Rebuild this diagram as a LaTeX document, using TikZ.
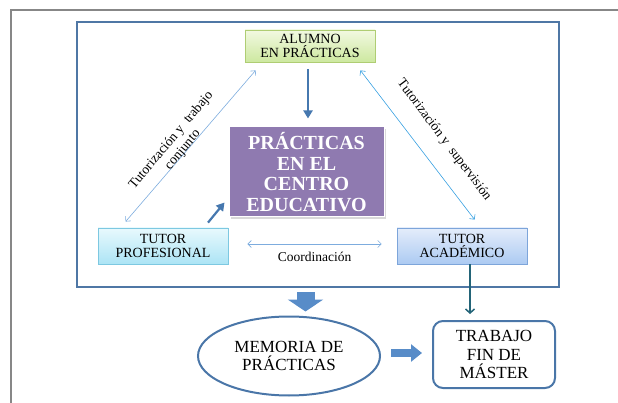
\documentclass[tikz,border=0pt]{standalone}
\usepackage{fontspec}
\setmainfont{Liberation Serif}
\usetikzlibrary{arrows.meta,shapes.geometric,shadows}
\definecolor{gris}{RGB}{135,135,135}
\definecolor{marco}{RGB}{79,119,165}
\definecolor{morado}{RGB}{143,122,176}
\definecolor{flecha}{RGB}{70,120,175}
\definecolor{bloqueazul}{RGB}{88,140,200}
\definecolor{azulclaro}{RGB}{125,172,222}
\definecolor{azulvivo}{RGB}{55,160,225}
\definecolor{verdosa}{RGB}{35,100,120}
\definecolor{contorno}{RGB}{74,118,168}
\tikzset{
  caja/.style={draw, line width=0.8, minimum width=130, minimum height=36, inner sep=0,
    align=center, font=\fontsize{14}{14}\selectfont},
  texto/.style={inner sep=1, align=center, text=black, font=\fontsize{13.5}{15}\selectfont},
  fina/.style={<->, >={Straight Barb[length=3.5pt,width=7pt]}, line width=0.6},
  gruesa/.style={flecha, line width=2.2, -{Triangle[length=8pt,width=9pt]}},
  bloque/.style={bloqueazul, line width=18, -{Triangle[length=12pt,width=35pt]}}
}
\begin{document}
\begin{tikzpicture}[x=1pt, y=-1pt]
  \useasboundingbox (0,0) rectangle (618,403);
  \draw[gris, line width=1.5] (618,10) -- (11,10) -- (11,403);
  \draw[marco, line width=2.5] (77,22) rectangle (559,287);

  \node[caja, draw={rgb,255:red,175;green,205;blue,115}, top color={rgb,255:red,242;green,249;blue,225},
    bottom color={rgb,255:red,205;green,232;blue,160}, minimum height=32] (alumno) at (310,46) {ALUMNO\\EN PRÁCTICAS};
  \node[draw=white, line width=1, fill=morado, text=white, minimum width=155, minimum height=90, inner sep=0,
    align=center, font=\fontsize{20}{20.7}\selectfont\bfseries,
    drop shadow={shadow xshift=2pt, shadow yshift=-2pt, opacity=.3}] (practicas) at (306.5,172)
    {PRÁCTICAS\\EN EL\\CENTRO\\EDUCATIVO};
  \node[caja, draw={rgb,255:red,125;green,200;blue,225}, top color={rgb,255:red,232;green,249;blue,253},
    bottom color={rgb,255:red,172;green,228;blue,245}] (profesional) at (163,246) {TUTOR\\PROFESIONAL};
  \node[caja, draw={rgb,255:red,125;green,165;blue,218}, top color={rgb,255:red,228;green,237;blue,251},
    bottom color={rgb,255:red,172;green,202;blue,242}] (academico) at (462,246) {TUTOR\\ACADÉMICO};
  \node[ellipse, draw=contorno, line width=2, minimum width=182, minimum height=79, inner sep=0,
    align=center, font=\fontsize{17}{18}\selectfont] (memoria) at (289,356) {MEMORIA DE\\PRÁCTICAS};
  \node[draw=contorno, line width=2, rounded corners=10, minimum width=122, minimum height=67, inner sep=0,
    align=center, font=\fontsize{17}{18.5}\selectfont] (tfm) at (494,354.5) {TRABAJO\\FIN DE\\MÁSTER};
  \coordinate (salida) at (305.5,292);

  \draw[gruesa, shorten <=7, shorten >=8] ([xshift=-2]alumno.south) -- ([xshift=-2]alumno.south |- practicas.north);
  \draw[gruesa] ([xshift=45,yshift=5]profesional.north) -- ([xshift=-4,yshift=15]practicas.south west);
  \draw[fina, azulclaro] ([xshift=28,yshift=6]profesional.north west) -- ([xshift=11,yshift=-8]alumno.south west);
  \draw[fina, azulvivo] ([xshift=-15,yshift=-8]alumno.south east) -- ([xshift=78,yshift=8]academico.north west);
  \draw[fina, azulclaro] ([xshift=19,yshift=2]profesional.east) -- ([xshift=-15,yshift=2]academico.west)
    node[texto, midway, below=7] (coordinacion) {Coordinación};
  \node[texto, rotate=50] (trabajo) at (177,145) {Tutorización y\ \ trabajo\\conjunto};
  \node[texto, rotate=-53] (supervision) at (444,140) {Tutorización y\ \ supervisión};
  \draw[verdosa, line width=1.5, -{Straight Barb[length=4pt,width=9pt]}, shorten >=6]
    ([xshift=8]academico.south) -- ([xshift=8]academico.south |- tfm.north);
  \draw[bloque, shorten >=4] (salida) -- (salida |- memoria.north);
  \draw[bloque, line width=8, -{Triangle[length=11pt,width=17pt]}, shorten <=10, shorten >=10]
    ([yshift=3]memoria.east) -- ([yshift=3]memoria.east -| tfm.west);
\end{tikzpicture}
\end{document}
